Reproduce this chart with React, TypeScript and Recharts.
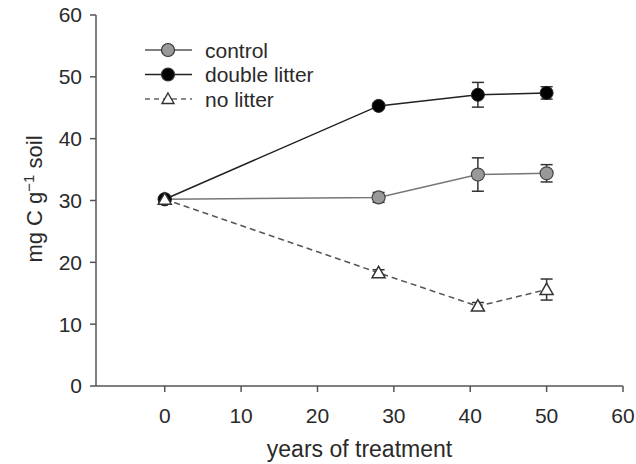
import { LineChart, Line, XAxis, YAxis, ErrorBar, Legend } from "recharts";

// years since treatment started
const years = [0, 28, 41, 50];

// soil C (mg C / g soil), mean and error per treatment
const control = [30.2, 30.5, 34.2, 34.4];
const controlErr = [null, 0.8, 2.7, 1.4];
const doubleLitter = [30.2, 45.3, 47.1, 47.4];
const doubleLitterErr = [null, 0.4, 2.0, 1.0];
const noLitter = [30.2, 18.3, 12.9, 15.6];
const noLitterErr = [null, 0.5, 0.6, 1.7];

const seriesNames = ["control", "double litter", "no litter"];
const xTicks = [0, 10, 20, 30, 40, 50, 60];
const yTicks = [0, 10, 20, 30, 40, 50, 60];

const toRows = (vals: number[], errs: (number | null)[]) =>
  years.map((x, i) => ({ x, y: vals[i], err: errs[i] ?? undefined }));

const controlRows = toRows(control, controlErr);
const doubleRows = toRows(doubleLitter, doubleLitterErr);
const noLitterRows = toRows(noLitter, noLitterErr);

const FONT = "'Liberation Sans', Arial, sans-serif";
const TEXT = "#2a2a2a";
const AXIS = "#555";

const trianglePath = (cx: number, cy: number, s = 7) =>
  `M${cx},${cy - s} L${cx + s},${cy + s * 0.75} L${cx - s},${cy + s * 0.75} Z`;

const TriangleDot = (props: any) => {
  const { cx, cy, index } = props;
  if (cx == null || cy == null) return <g key={`t-${index}`} />;
  return (
    <path
      key={`t-${index}`}
      d={trianglePath(cx, cy, 6.5)}
      fill="#fff"
      stroke="#333"
      strokeWidth={1.5}
    />
  );
};

const renderLegend = () => {
  const rows = [
    { name: seriesNames[0], line: "#555", dash: undefined, marker: "circle", fill: "#999" },
    { name: seriesNames[1], line: "#222", dash: undefined, marker: "circle", fill: "#000" },
    { name: seriesNames[2], line: "#666", dash: "5 4", marker: "tri", fill: "#fff" },
  ];
  return (
    <svg width={220} height={80}>
      {rows.map((r, i) => {
        const cy = 12 + i * 24.5;
        return (
          <g key={r.name}>
            <line x1={5} x2={52} y1={cy} y2={cy} stroke={r.line} strokeWidth={1.5} strokeDasharray={r.dash} />
            {r.marker === "circle" ? (
              <circle cx={28} cy={cy} r={6.5} fill={r.fill} stroke="#333" strokeWidth={1.2} />
            ) : (
              <path d={trianglePath(28, cy, 6)} fill="#fff" stroke="#333" strokeWidth={1.4} />
            )}
            <text x={65} y={cy} dominantBaseline="central" fontSize={21} fontFamily={FONT} fill={TEXT}>
              {r.name}
            </text>
          </g>
        );
      })}
    </svg>
  );
};

const YLabel = () => (
  <text
    transform="translate(42,199) rotate(-90)"
    textAnchor="middle"
    fontSize={22}
    fontFamily={FONT}
    fill={TEXT}
  >
    mg C g
    <tspan dy={-8} fontSize={15}>−1</tspan>
    <tspan dy={8}> soil</tspan>
  </text>
);

const XLabel = (props: any) => {
  const { viewBox } = props;
  const cx = viewBox.x + viewBox.width / 2;
  return (
    <text x={cx} y={457} textAnchor="middle" fontSize={23} fontFamily={FONT} fill={TEXT}>
      years of treatment
    </text>
  );
};

export default function App() {
  return (
    <div style={{ position: "absolute", left: 0, top: 0, background: "#fff" }}>
      <LineChart width={636} height={464} margin={{ top: 15, right: 13, bottom: 0, left: 0 }}>
        <XAxis
          type="number"
          dataKey="x"
          domain={[-9, 60]}
          ticks={xTicks}
          allowDataOverflow
          height={78}
          tickSize={6}
          tickMargin={16}
          stroke={AXIS}
          strokeWidth={1.5}
          tick={{ fontSize: 21, fontFamily: FONT, fill: TEXT }}
          label={<XLabel />}
        />
        <YAxis
          type="number"
          dataKey="y"
          domain={[0, 60]}
          ticks={yTicks}
          width={96}
          tickSize={6}
          tickMargin={8}
          stroke={AXIS}
          strokeWidth={1.5}
          tick={{ fontSize: 21, fontFamily: FONT, fill: TEXT }}
          label={<YLabel />}
        />
        <Legend
          layout="vertical"
          align="center"
          verticalAlign="middle"
          content={renderLegend}
          wrapperStyle={{ position: "absolute", left: 140, top: 38, width: 220, height: 80 }}
        />
        <Line
          data={controlRows}
          dataKey="y"
          name={seriesNames[0]}
          stroke="#777"
          strokeWidth={1.5}
          dot={{ r: 6.5, fill: "#999", stroke: "#444", strokeWidth: 1.2 }}
          isAnimationActive={false}
        >
          <ErrorBar dataKey="err" direction="y" width={6} stroke="#333" strokeWidth={1.5} isAnimationActive={false} />
        </Line>
        <Line
          data={doubleRows}
          dataKey="y"
          name={seriesNames[1]}
          stroke="#222"
          strokeWidth={1.5}
          dot={{ r: 6.5, fill: "#000", stroke: "#222", strokeWidth: 1 }}
          isAnimationActive={false}
        >
          <ErrorBar dataKey="err" direction="y" width={6} stroke="#333" strokeWidth={1.5} isAnimationActive={false} />
        </Line>
        <Line
          data={noLitterRows}
          dataKey="y"
          name={seriesNames[2]}
          stroke="#555"
          strokeWidth={1.5}
          strokeDasharray="6 4"
          dot={TriangleDot}
          isAnimationActive={false}
        >
          <ErrorBar dataKey="err" direction="y" width={6} stroke="#333" strokeWidth={1.5} isAnimationActive={false} />
        </Line>
      </LineChart>
    </div>
  );
}
